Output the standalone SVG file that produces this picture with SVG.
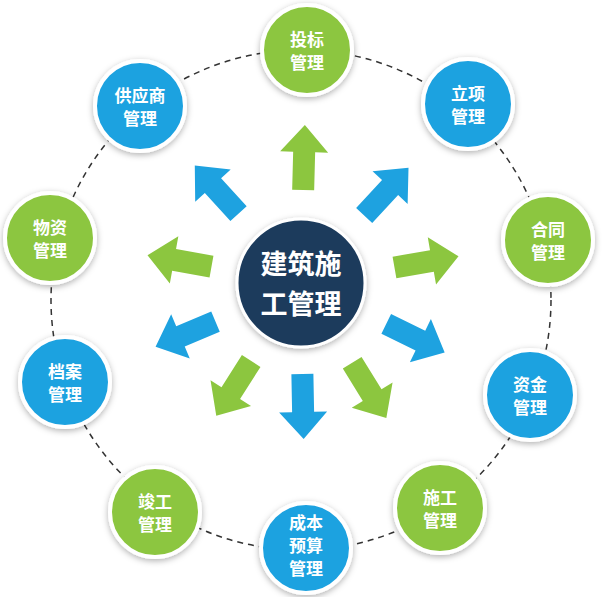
<svg xmlns="http://www.w3.org/2000/svg" width="602" height="597" viewBox="0 0 602 597">
<defs>
<style>
.g{fill:#8cc63f}.b{fill:#1ea2e0}
.n{stroke:#fff;stroke-width:4}
.t{fill:#fff;font-family:"Noto Sans CJK SC",sans-serif;font-size:17px;font-weight:bold;text-anchor:middle}
.c{fill:#fff;font-family:"Noto Sans CJK SC",sans-serif;font-size:27px;font-weight:bold;text-anchor:middle}
</style>
<polygon id="ar" points="-32,-11 6,-11 6,-24 33,0 6,24 6,11 -32,11"/>
<filter id="sh" x="-30%" y="-30%" width="160%" height="160%"><feDropShadow dx="0" dy="2" stdDeviation="3" flood-color="#000" flood-opacity="0.3"/></filter>
</defs>
<rect width="602" height="597" fill="#fff"/>
<circle cx="301" cy="300" r="250" fill="none" stroke="#333" stroke-width="1.5" stroke-dasharray="6,5"/>
<g id="connectors">
<use href="#ar" class="g" transform="translate(304,158) rotate(-88.5)"/>
<use href="#ar" class="b" transform="translate(386,192) rotate(-47)"/>
<use href="#ar" class="g" transform="translate(426,262) rotate(-9.9)"/>
<use href="#ar" class="b" transform="translate(415,338) rotate(26)"/>
<use href="#ar" class="g" transform="translate(369,390) rotate(58.3)"/>
<use href="#ar" class="b" transform="translate(303,406) rotate(88.9)"/>
<use href="#ar" class="g" transform="translate(234,388) rotate(122.5)"/>
<use href="#ar" class="b" transform="translate(186,334) rotate(157.2)"/>
<use href="#ar" class="g" transform="translate(180,261) rotate(190.2)"/>
<use href="#ar" class="b" transform="translate(217,190) rotate(227.7)"/>
</g>
<g id="center"><circle cx="301" cy="283" r="64" fill="#1b3a5c" stroke="#fff" stroke-width="3" filter="url(#sh)"/><text class="c" x="301" y="274">建筑施</text><text class="c" x="301" y="314">工管理</text></g>
<g id="n1"><circle class="n g" cx="307" cy="50" r="45" filter="url(#sh)"/><text class="t" x="307" y="46">投标</text><text class="t" x="307" y="69">管理</text></g>
<g id="n2"><circle class="n b" cx="468" cy="104" r="45" filter="url(#sh)"/><text class="t" x="468" y="100">立项</text><text class="t" x="468" y="123">管理</text></g>
<g id="n3"><circle class="n g" cx="548" cy="240" r="45" filter="url(#sh)"/><text class="t" x="548" y="236">合同</text><text class="t" x="548" y="259">管理</text></g>
<g id="n4"><circle class="n b" cx="530" cy="395" r="45" filter="url(#sh)"/><text class="t" x="530" y="391">资金</text><text class="t" x="530" y="414">管理</text></g>
<g id="n5"><circle class="n g" cx="440" cy="508" r="45" filter="url(#sh)"/><text class="t" x="440" y="504">施工</text><text class="t" x="440" y="527">管理</text></g>
<g id="n6"><circle class="n b" cx="306" cy="548" r="45" filter="url(#sh)"/><text class="t" x="306" y="529">成本</text><text class="t" x="306" y="552">预算</text><text class="t" x="306" y="575">管理</text></g>
<g id="n7"><circle class="n g" cx="155" cy="512" r="45" filter="url(#sh)"/><text class="t" x="155" y="508">竣工</text><text class="t" x="155" y="531">管理</text></g>
<g id="n8"><circle class="n b" cx="65" cy="382" r="45" filter="url(#sh)"/><text class="t" x="65" y="378">档案</text><text class="t" x="65" y="401">管理</text></g>
<g id="n9"><circle class="n g" cx="50" cy="238" r="45" filter="url(#sh)"/><text class="t" x="50" y="234">物资</text><text class="t" x="50" y="257">管理</text></g>
<g id="n10"><circle class="n b" cx="140" cy="106" r="45" filter="url(#sh)"/><text class="t" x="140" y="102">供应商</text><text class="t" x="140" y="125">管理</text></g>
</svg>
